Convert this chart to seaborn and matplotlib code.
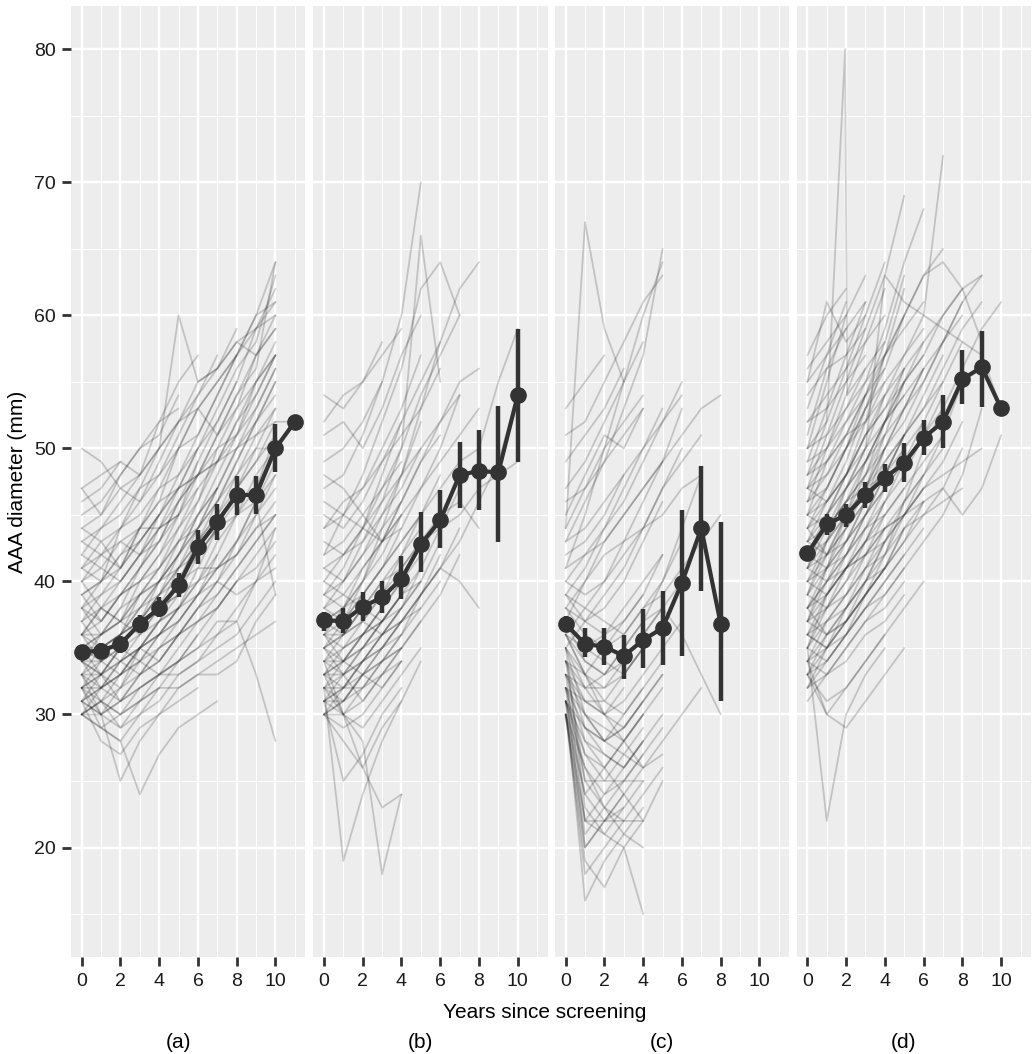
import numpy as np
import pandas as pd
import matplotlib
matplotlib.use("Agg")
import matplotlib.pyplot as plt
import seaborn as sns
from matplotlib.ticker import MultipleLocator, FixedLocator

# ---------------- data ----------------
panel_labels = ["(a)", "(b)", "(c)", "(d)"]
x_label = "Years since screening"
y_label = "AAA diameter (mm)"
x_ticks = [0, 2, 4, 6, 8, 10]
y_ticks = [20, 30, 40, 50, 60, 70, 80]

# individual trajectories (value per year, starting at year 0)
traj_a = [
    [30, 31, 33, 34, 36, 38, 41, 44, 47, 50, 53],
    [32, 33, 32, 35, 37, 40, 43, 46, 49, 52, 55],
    [34, 35, 36, 38, 39, 42, 45, 48, 51, 55, 58],
    [35, 34, 36, 37, 40, 43, 46, 50, 53, 57, 60],
    [36, 38, 37, 40, 42, 45, 49, 52, 55, 59, 62],
    [31, 30, 32, 33, 35, 36, 38, 40, 42, 44, 46],
    [33, 32, 34, 35, 36, 37, 39, 41, 42, 44, 45],
    [38, 37, 39, 41, 43, 46, 48, 51, 54, 56, 64],
    [40, 42, 41, 44, 46, 50, 53, 55, 57, 60, 61],
    [42, 44, 45, 47, 48, 51, 54, 56, 58, 57, 59],
    [44, 45, 47, 46, 49, 52, 55, 56, 59],
    [46, 47, 49, 48, 52, 55, 57],
    [47, 45, 48, 50, 51, 54],
    [50, 49, 47, 48, 50, 52, 53, 51, 53, 55, 57],
    [30, 29, 28, 30, 31, 33, 34, 36, 37, 40, 42],
    [31, 28, 27, 29, 30, 32, 33, 33, 34, 37, 39],
    [33, 30, 25, 28, 30, 31, 32],
    [32, 29, 28, 24, 27, 29, 30, 31],
    [34, 33, 35, 34, 33, 34, 35, 37, 37, 33, 28],
    [38, 40, 44, 47, 50, 60, 55, 56, 58, 59, 61],
    [35, 36, 37, 36, 38, 39, 40, 41, 43, 45, 48],
    [36, 34, 35, 37, 38, 40, 42, 44, 46, 47, 50],
    [39, 40, 42, 43, 45, 47, 48, 50, 51, 53, 56],
    [41, 40, 42, 44, 44, 46, 48, 49, 52, 54, 57],
    [43, 42, 44, 45, 47, 48, 50],
    [45, 46, 48, 50, 52, 53],
    [32, 33, 34, 33, 35, 36, 37, 38, 40, 41, 43],
    [30, 32, 33, 35, 34, 36, 38, 40, 43, 46, 49],
    [34, 36, 38, 41, 44, 47, 50, 53, 56, 58, 63],
    [37, 39, 41, 44, 47, 50, 51, 54, 57, 60, 64],
    [33, 35, 36, 39, 40, 42, 44, 46, 49, 52, 54],
    [31, 33, 35, 37, 39, 40, 41, 41, 42, 45, 47],
    [35, 33, 31, 32, 33, 34, 35, 36, 38, 40, 44],
    [36, 35, 34, 36, 37, 38, 39, 40, 39, 40, 41],
    [38, 36, 37, 38, 40, 41, 43, 44, 45, 46, 39],
    [40, 38, 37, 39, 41, 43, 45, 47],
    [42, 41, 43, 42, 44, 45],
    [44, 43, 41, 43, 45],
    [32, 31, 30, 31, 32, 32, 33, 34, 35, 36, 37],
    [30, 31, 30, 32, 33, 33, 34, 35, 36, 38, 40],
    [33, 31, 29, 30, 32],
    [47, 48, 49],
    [31, 32, 34, 35, 37, 38, 40, 42, 45, 47, 51],
    [34, 34, 36, 37, 39, 41, 43, 45, 48, 51, 53],
    [39, 37, 39, 40, 42, 44, 47, 49, 52, 55, 57],
    [36, 37, 39, 40, 41, 43, 44, 46, 48, 50, 50],
    [41, 42, 43, 44, 46, 47, 48, 49, 50, 51, 52, 52],
    [30, 31, 32, 34, 35, 37, 39, 42],
    [31, 32, 33, 34, 36, 38, 40, 43, 45, 48, 50],
    [32, 34, 33, 35, 36, 38],
    [33, 34, 35, 37, 38, 41, 44, 47, 50, 53, 56],
    [34, 33, 34, 35, 37, 39],
    [35, 36, 38, 39, 41, 44, 46, 49, 51, 54, 57],
    [36, 36, 37, 39, 40, 42, 45, 47],
    [37, 38, 39, 41, 43, 45, 48, 51, 54, 57, 59],
    [30, 30, 31, 32, 33, 35, 37, 39, 41, 43, 45],
    [31, 30, 31, 33, 34, 36, 37, 38, 40],
    [32, 32, 33, 35, 36, 37, 39, 41, 43, 46, 48],
    [33, 33, 35, 36, 38, 39, 42, 44, 47, 49, 52],
    [34, 35, 35, 37, 38, 40, 43, 45, 47, 49, 51],
    [35, 35, 36, 38, 40, 42, 44, 47, 50, 52, 55],
    [36, 38, 40, 42, 45, 48, 51, 54, 57, 59, 60],
    [38, 39, 40, 42, 44, 45, 47],
    [39, 40, 41, 43, 45, 47, 50, 52, 55],
    [41, 43, 44, 46, 48, 50, 53, 55, 57],
    [43, 44, 46, 48, 50, 52, 54, 57],
    [32, 30, 29, 31, 33, 34, 36],
    [34, 32, 31, 33, 34, 36, 38, 39, 41, 43, 45],
    [30, 29, 30, 31, 32, 34, 36, 38, 40, 42, 44],
    [37, 35, 36, 37, 39, 41, 42, 44],
    [40, 41, 40, 42, 43, 46, 49],
]

traj_b = [
    [30, 31, 32, 33, 35],
    [31, 30, 32, 34, 36, 38],
    [32, 33, 31, 33, 34],
    [33, 32, 34, 35, 37, 39, 42],
    [34, 35, 36, 38, 40],
    [35, 33, 34, 36, 38, 41, 44, 47],
    [36, 37, 39, 41, 44, 47, 50, 54],
    [37, 36, 38, 37, 39],
    [38, 40, 42, 45, 48, 52],
    [39, 38, 40, 42, 45],
    [40, 42, 44, 47, 50, 54, 57, 60],
    [41, 40, 43, 46, 50, 66, 55],
    [42, 45, 48, 52, 56, 62, 64, 60],
    [44, 46, 47, 50, 53, 57],
    [45, 44, 46, 49, 52],
    [47, 48, 51, 55, 60, 70],
    [49, 50, 52, 55],
    [51, 52, 50, 53, 57, 60],
    [54, 53, 55, 58],
    [31, 25, 27, 30, 32],
    [32, 19, 24, 28, 31],
    [33, 30, 28, 18, 24],
    [34, 30, 26, 23, 24],
    [30, 28, 26, 29, 31, 34],
    [36, 34, 33, 35, 37, 39, 41, 43, 46, 49, 54],
    [38, 37, 39, 41, 43, 45, 47, 49, 50, 55, 59],
    [35, 36, 38, 39, 41, 43, 44, 45, 47, 48, 49],
    [37, 38, 40, 43, 46, 49, 52, 55, 56],
    [39, 41, 44, 48, 52, 55, 58],
    [33, 34, 36, 38, 41, 43, 45, 46, 44],
    [32, 31, 33, 34, 35, 37, 39, 42],
    [34, 33, 35, 37, 39, 40, 43],
    [31, 33, 34, 36, 37, 38, 40],
    [30, 32, 33, 32, 34],
    [36, 35, 37, 36, 38, 40],
    [40, 39, 38, 40, 42, 44],
    [43, 42, 44, 43, 45],
    [46, 45, 44, 46, 48, 50],
    [35, 37, 40, 44, 48, 53, 58, 62, 64],
    [48, 47, 45, 43, 44],
    [52, 54, 55, 57, 59],
    [33, 35, 36, 37],
    [31, 32, 34, 36, 37, 39, 41, 40, 38],
    [30, 31, 33, 34, 36],
    [31, 32, 32, 34, 35, 37],
    [32, 32, 34, 35, 37],
    [33, 34, 35, 36, 38, 40],
    [34, 34, 36, 37, 39],
    [35, 36, 37, 39, 40, 42, 45],
    [36, 36, 38, 40, 41],
    [37, 38, 39, 41, 43, 45],
    [30, 30, 31, 33, 35],
    [31, 31, 33, 35, 36, 39, 41, 44],
    [32, 34, 35, 37, 39, 41],
    [33, 33, 35, 37, 38],
    [34, 36, 37, 39, 42, 45, 48],
    [35, 34, 36, 38, 40],
    [38, 39, 41, 43, 46, 49, 51],
    [36, 38, 41, 43, 45, 47, 49, 51, 53],
    [42, 43, 45, 47, 49],
    [30, 29, 30, 32, 34],
    [32, 30, 29, 31, 33, 35],
    [44, 45, 47, 49, 51, 53, 56],
    [39, 40, 42, 44, 46],
    [41, 42, 43, 45, 47, 50, 52, 54],
]

traj_c = [
    [30, 18, 20, 22],
    [31, 16, 19, 21, 23],
    [32, 20, 22, 24],
    [33, 22, 22, 22, 22],
    [34, 25, 25, 25, 25],
    [35, 23, 21, 20, 15],
    [30, 24, 26, 28, 30, 32],
    [31, 27, 25, 27, 29],
    [32, 29, 27, 26, 28, 30],
    [33, 30, 28, 29, 31],
    [34, 31, 30, 32],
    [35, 33, 31, 30, 32, 34],
    [36, 34, 33, 34, 36, 38],
    [37, 35, 34, 33, 35],
    [38, 36, 35, 37, 39, 42],
    [39, 38, 37, 36, 38, 40, 44, 48],
    [40, 42, 44, 47, 50, 53],
    [41, 45, 50, 55, 60, 64],
    [44, 67, 59, 55],
    [43, 46, 49, 53, 57, 65],
    [44, 47, 50, 52, 54],
    [45, 48, 51, 50, 53],
    [47, 49, 52, 55, 58],
    [49, 51, 53, 56],
    [51, 52, 55, 58, 61, 63],
    [53, 55, 57],
    [36, 38, 40, 43, 46, 49, 51, 53, 54],
    [35, 37, 39, 41, 44, 47, 49, 51],
    [33, 32, 33, 35, 37, 38, 36, 33, 30],
    [34, 33, 35, 36, 38, 39, 41, 43, 45],
    [32, 30, 28, 27, 26, 27],
    [31, 28, 26, 24, 22, 25],
    [30, 21, 23, 25, 27],
    [30, 19, 17, 20, 22],
    [31, 26, 23, 21, 20],
    [37, 40, 43, 45, 47, 49, 53],
    [38, 40, 42, 43, 44, 45, 47, 48],
    [36, 33, 30, 28, 26, 28, 30, 32],
    [42, 43, 45, 48],
    [39, 41, 44, 46, 49, 52, 55],
    [30, 22, 24, 26, 28],
    [30, 26, 24, 25, 27, 29],
    [31, 24, 22, 23, 25],
    [31, 29, 28, 29, 31, 33],
    [32, 27, 26, 28, 30],
    [32, 31, 30, 31, 33, 35, 37],
    [33, 28, 27, 26, 28],
    [33, 31, 31, 33, 35],
    [34, 32, 30, 29, 31, 33],
    [34, 29, 28, 30, 32],
    [35, 32, 32, 34, 36, 38, 40],
    [35, 30, 29, 28, 30],
    [36, 33, 32, 33, 35],
    [36, 35, 36, 38, 40, 42],
    [37, 34, 33, 35, 37, 40, 43],
    [38, 37, 38, 40, 43, 46],
    [39, 37, 36, 37, 39],
    [40, 39, 40, 42, 44, 47, 50],
    [30, 20, 22, 24, 26],
    [31, 22, 21, 23],
    [32, 25, 23, 22, 24, 26],
    [41, 42, 43, 45, 47, 49],
    [43, 44, 46, 48, 50, 52, 54],
    [46, 47, 49, 51, 53],
]

traj_d = [
    [32, 34, 36, 38, 40, 42],
    [33, 35, 38, 40, 43],
    [34, 36, 37, 40, 42, 45, 47],
    [35, 38, 40, 43, 46, 49, 51, 54],
    [36, 37, 39, 41, 44],
    [37, 40, 43, 46, 50, 53, 56],
    [38, 41, 44, 47, 51, 55, 58, 60, 62],
    [39, 42, 45, 49, 52, 56],
    [40, 43, 47, 50, 54],
    [41, 44, 46, 48, 50, 53, 55, 58, 61],
    [42, 45, 48, 52, 57, 62],
    [43, 46, 49, 53, 56, 60, 63, 65],
    [44, 47, 50, 54, 58, 63],
    [45, 49, 52, 55, 59, 64, 68],
    [46, 50, 54, 58, 62],
    [47, 51, 55, 59, 63, 69],
    [48, 52, 56, 60, 64],
    [49, 53, 57, 61],
    [50, 55, 60, 63],
    [51, 56, 59],
    [53, 57, 61],
    [55, 61, 58, 60],
    [57, 60, 62],
    [35, 22, 30, 33, 35],
    [34, 30, 29, 31, 33, 35],
    [33, 31, 32, 34, 36, 38, 40],
    [36, 35, 37, 39, 41, 43, 45, 47, 50],
    [38, 40, 42, 45, 48, 50, 52, 55, 58, 57, 53],
    [40, 42, 44, 46, 49, 51, 53, 56, 59, 61],
    [42, 44, 46, 49, 52, 55, 57, 60, 62, 63],
    [44, 46, 48, 51, 54, 57, 60, 72],
    [37, 39, 41, 43, 44, 45, 46, 47, 45, 47, 51],
    [45, 47, 50, 53, 57, 60, 63, 64, 62, 58],
    [41, 43, 45, 47, 50, 52, 55, 58, 61, 63],
    [32, 33, 35, 37, 39, 41, 43, 45, 48, 53],
    [34, 35, 37, 39, 42, 46, 50, 53, 56, 59, 61],
    [43, 45, 47, 50, 63, 61, 60, 59, 58],
    [52, 54, 56, 58, 60],
    [54, 56, 57, 59],
    [47, 49, 51, 52, 54, 56, 58],
    [36, 38, 39, 41, 42, 44, 45, 46, 47],
    [38, 39, 41, 42, 44, 45, 47, 48, 49, 50],
    [31, 33, 34, 36, 37, 39],
    [33, 36, 38, 41, 43, 46, 48, 51, 55],
    [48, 50, 53, 55, 57, 59, 61],
    [39, 43, 46, 48, 51],
    [41, 45, 48, 51, 53, 55],
    [35, 39, 42, 45, 48],
    [37, 41, 45, 48, 52, 55, 57],
    [46, 48, 51, 54, 56],
    [32, 35, 37, 39, 41],
    [33, 34, 36, 39, 41, 44],
    [34, 37, 39, 42, 45],
    [35, 37, 38, 40, 43, 45, 48],
    [36, 39, 41, 44, 47, 50],
    [37, 38, 41, 43, 46, 48, 51, 53],
    [38, 40, 41, 43, 45, 47],
    [39, 41, 43, 46, 48, 51, 54, 57],
    [40, 41, 43, 45, 47, 49, 52],
    [41, 42, 45, 47, 50],
    [42, 43, 45, 47, 48, 51, 53, 55],
    [43, 44, 47, 49, 52, 54],
    [44, 45, 47, 49, 51, 53, 56, 58, 60],
    [45, 46, 48, 51, 53, 56],
    [46, 47, 50, 52, 55, 57, 59],
    [47, 48, 50, 53, 55],
    [48, 49, 51, 54, 57, 60],
    [49, 50, 52, 54],
    [50, 51, 53, 56, 58],
    [52, 53, 55, 57],
    [34, 33, 35, 37, 38, 40],
    [35, 34, 36, 38, 40, 42, 44],
    [36, 35, 36, 38, 39, 41],
    [38, 36, 38, 40, 41, 43, 46],
    [40, 39, 41, 42, 44, 46, 48, 50],
    [42, 41, 42, 44, 46],
    [44, 42, 44, 46, 48, 51],
    [33, 30, 32, 34, 36],
    [37, 36, 37, 39, 41, 44, 46],
    [39, 38, 40, 42, 43, 45, 47, 49, 52],
    [41, 40, 42, 44, 45, 47, 49, 51],
    [43, 42, 43, 45, 47, 49],
    [55, 57, 59, 61],
    [56, 58, 60],
    [45, 44, 46, 47, 49, 51],
    [47, 46, 48, 50, 52, 54, 56],
]
# one trajectory in (d) with a near-vertical spike around year 2
spike_d_years = [0, 1, 1.95, 2.05, 3]
spike_d_vals = [50, 52, 80, 54, 56]

# mean and interval per year
a_years = [0, 1, 2, 3, 4, 5, 6, 7, 8, 9, 10, 11]
a_mean = [34.7, 34.8, 35.3, 36.8, 38.0, 39.7, 42.6, 44.5, 46.5, 46.5, 50.0, 52.0]
a_lo = [34.2, 34.2, 34.6, 36.1, 37.3, 38.8, 41.3, 43.1, 45.0, 45.1, 48.2, np.nan]
a_hi = [35.2, 35.4, 35.9, 37.5, 38.8, 40.6, 43.9, 45.8, 47.9, 47.9, 51.8, np.nan]

b_years = [0, 1, 2, 3, 4, 5, 6, 7, 8, 9, 10]
b_mean = [37.1, 37.0, 38.1, 38.8, 40.2, 42.8, 44.6, 48.0, 48.3, 48.2, 54.0]
b_lo = [36.3, 36.1, 37.0, 37.6, 38.7, 40.7, 42.5, 45.5, 45.4, 43.0, 49.0]
b_hi = [37.7, 38.0, 39.2, 40.0, 41.9, 45.2, 46.9, 50.5, 51.4, 53.2, 59.0]

c_years = [0, 1, 2, 3, 4, 5, 6, 7, 8]
c_mean = [36.8, 35.3, 35.1, 34.4, 35.6, 36.5, 39.9, 44.0, 36.8]
c_lo = [36.2, 34.3, 33.7, 32.7, 33.5, 33.7, 34.4, 39.3, 31.0]
c_hi = [37.4, 36.5, 36.5, 36.0, 37.9, 39.3, 45.4, 48.7, 44.5]

d_years = [0, 1, 2, 3, 4, 5, 6, 7, 8, 9, 10]
d_mean = [42.1, 44.3, 45.0, 46.5, 47.8, 48.9, 50.8, 52.0, 55.2, 56.1, 53.0]
d_lo = [41.5, 43.5, 44.1, 45.5, 46.7, 47.5, 49.5, 50.0, 53.3, 53.1, np.nan]
d_hi = [42.7, 45.1, 45.8, 47.5, 48.8, 50.4, 52.1, 54.0, 57.4, 58.8, np.nan]

# ---------------- build tables ----------------
rows = []
tid = 0
for p, trajs in enumerate([traj_a, traj_b, traj_c, traj_d]):
    for vals in trajs:
        for yr, v in enumerate(vals):
            rows.append((p, tid, yr, v))
        tid += 1
for yr, v in zip(spike_d_years, spike_d_vals):
    rows.append((3, tid, yr, v))
tid += 1
traj_df = pd.DataFrame(rows, columns=["panel", "tid", "year", "diam"])

summ = []
for p, (ys, m, lo, hi) in enumerate([(a_years, a_mean, a_lo, a_hi),
                                     (b_years, b_mean, b_lo, b_hi),
                                     (c_years, c_mean, c_lo, c_hi),
                                     (d_years, d_mean, d_lo, d_hi)]):
    for y, mm, l, h in zip(ys, m, lo, hi):
        summ.append((p, y, mm, l, h))
summ_df = pd.DataFrame(summ, columns=["panel", "year", "mean", "lo", "hi"])

# ---------------- style ----------------
sns.set_theme(style="darkgrid", rc={
    "axes.facecolor": "#EDEDED",
    "grid.color": "white",
    "axes.edgecolor": "none",
})
plt.rcParams["font.family"] = ["Liberation Sans", "DejaVu Sans"]

W, H = 1032, 1054
fig = plt.figure(figsize=(W / 100, H / 100), dpi=100)
lefts = [71, 313.3, 555, 796.7]
pw = 234.5
top_px, bot_px = 6, 957.3
dark = "#333333"

for p in range(4):
    ax = fig.add_axes([lefts[p] / W, (H - bot_px) / H, pw / W, (bot_px - top_px) / H])
    ax.set_facecolor("#EDEDED")
    sub = traj_df[traj_df.panel == p]
    sns.lineplot(data=sub, x="year", y="diam", units="tid", estimator=None,
                 color="black", alpha=0.18, linewidth=1.3, ax=ax, legend=False)
    s = summ_df[summ_df.panel == p]
    sb = s.dropna()
    ax.vlines(sb["year"], sb["lo"], sb["hi"], color=dark, linewidth=3.2, zorder=4)
    ax.plot(s["year"], s["mean"], "-", color=dark, linewidth=3.0, zorder=5)
    ax.plot(s["year"], s["mean"], "o", color=dark, markersize=11, zorder=6)

    ax.set_xlim(-0.55, 11.55)
    ax.set_ylim(11.75, 83.25)
    ax.xaxis.set_major_locator(FixedLocator(x_ticks))
    ax.xaxis.set_minor_locator(MultipleLocator(1))
    ax.yaxis.set_major_locator(FixedLocator(y_ticks))
    ax.yaxis.set_minor_locator(MultipleLocator(5))
    ax.grid(which="major", color="white", linewidth=1.7)
    ax.grid(which="minor", color="white", linewidth=0.8)
    ax.set_axisbelow(True)
    for sp in ax.spines.values():
        sp.set_visible(False)
    ax.set_xlabel("")
    ax.set_ylabel("")
    ax.tick_params(axis="x", which="major", bottom=True, length=6.5, width=2,
                   color=dark, labelsize=14, labelcolor="#1a1a1a", pad=4.5)
    ax.tick_params(which="minor", length=0)
    if p == 0:
        ax.tick_params(axis="y", which="major", left=True, length=6.5, width=2,
                       color=dark, labelsize=14, labelcolor="#1a1a1a", pad=4.5)
    else:
        ax.tick_params(axis="y", which="major", left=False, labelleft=False)
    ax.set_xticklabels([str(t) for t in x_ticks])
    if p == 0:
        ax.set_yticklabels([str(t) for t in y_ticks])
    cx = lefts[p] + pw / 2 - 10
    fig.text(cx / W, 1 - 1042 / H, panel_labels[p], ha="center", va="center",
             fontsize=15, color="black")

fig.text(545 / W, 1 - 1012 / H, x_label, ha="center", va="center", fontsize=15, color="black")
fig.text(18 / W, 1 - 482 / H, y_label, ha="center", va="center", rotation=90,
         fontsize=15, color="black")

fig.savefig("out.png", dpi=100, facecolor="white")
